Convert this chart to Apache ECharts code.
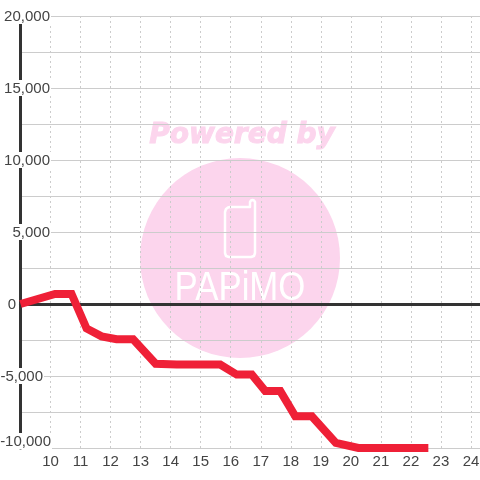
<!DOCTYPE html>
<html><head><meta charset="utf-8">
<style>html,body{margin:0;padding:0;background:#fff}#c{width:480px;height:480px}</style>
<script src="https://cdn.jsdelivr.net/npm/echarts@6/dist/echarts.min.js"></script>
</head><body><div id="c"></div>
<script>
const games = [9, 10.15, 10.7, 11.2, 11.7, 12.2, 12.75, 13.5, 14.2, 15.65, 16.2, 16.7, 17.15, 17.65, 18.15, 18.7, 19.5, 20.25, 22.58];
const values = [0, 700, 700, -1700, -2250, -2450, -2450, -4150, -4200, -4200, -4900, -4900, -6050, -6050, -7800, -7800, -9650, -10000, -10000];
const xTicks = [10, 11, 12, 13, 14, 15, 16, 17, 18, 19, 20, 21, 22, 23, 24];
const wmTitle = 'Powered by';
const wmBrand = 'PAPiMO';
const PINK = '#fcd5ed';
const INK = '#444444';
const DARK = '#333333';
const GRID = '#cccccc';

const chart = echarts.init(document.getElementById('c'), null, {renderer: 'canvas'});
function yFmt(v) {
  if (v % 5000 !== 0) return '';
  const s = v.toLocaleString('en-US');
  if (v === -10000) return '{t|' + s + '}\n{blank|}';
  if (v === -5000) return '{t|' + s + '}{gapA|}';
  if (v === 0) return '{t|' + s + '}{gapB|}';
  return '{t|' + s + '}{gapC|}';
}
chart.setOption({
  animation: false,
  backgroundColor: '#ffffff',
  grid: {left: 20.5, right: 0, top: 16, bottom: 32, containLabel: false, outerBoundsMode: 'none'},
  graphic: [
    {type: 'circle', z: -10, silent: true, shape: {cx: 240, cy: 258, r: 100}, style: {fill: PINK}},
    {type: 'text', z: -10, silent: true, x: 242, y: 136, style: {text: wmTitle, fill: PINK, stroke: PINK, lineWidth: 1, font: 'italic bold 28px "DejaVu Sans"', textAlign: 'center', textVerticalAlign: 'middle'}},
    {type: 'polygon', z: -9, silent: true, shape: {points: [[230,207],[250,207],[250,202],[251,200.5],[252.5,200],[254,200.5],[255,202],[255,253],[254,256],[251,257],[229,257],[226,256],[225,253],[225,212],[226,209],[228,207.5]]}, style: {fill: 'none', stroke: '#fff', lineWidth: 2.5, lineJoin: 'round'}},
    {type: 'text', z: -9, silent: true, x: 240, y: 289, scaleX: 0.87, style: {text: wmBrand, fill: '#ffffff', font: '40px "Liberation Sans"', textAlign: 'center', textVerticalAlign: 'middle'}}
  ],
  xAxis: [
    {type: 'value', min: 9, max: 24.3, interval: 1, position: 'bottom',
     axisLine: {show: false, onZero: false}, axisTick: {show: false},
     axisLabel: {margin: 6, color: INK, fontFamily: 'Liberation Sans', fontSize: 15, customValues: xTicks},
     splitLine: {show: true, showMinLine: false, showMaxLine: false, lineStyle: {color: GRID, type: [2, 3], width: 1}}},
    {type: 'value', min: 9, max: 24.3, interval: 1, position: 'bottom',
     axisLine: {show: true, onZero: true, lineStyle: {color: DARK, width: 3}}, axisTick: {show: false}, axisLabel: {show: false}, splitLine: {show: false}}
  ],
  yAxis: {type: 'value', min: -10000, max: 20000, interval: 2500, position: 'left',
    axisLine: {show: true, onZero: false, lineStyle: {color: DARK, width: 3}}, axisTick: {show: false},
    splitLine: {show: true, lineStyle: {color: GRID, width: 1}},
    axisLabel: {inside: true, margin: 31.5, align: 'right', color: INK, fontFamily: 'Liberation Sans', fontSize: 15, formatter: yFmt,
      rich: {
        t: {backgroundColor: '#fff', color: INK, fontFamily: 'Liberation Sans', fontSize: 15, height: 14, lineHeight: 14, padding: [2, 1, 0, 1]},
        blank: {height: 14, lineHeight: 14, fontSize: 1},
        gapA: {width: 8, height: 14, fontSize: 1},
        gapB: {width: 35, height: 14, fontSize: 1},
        gapC: {width: 1, height: 14, fontSize: 1}
      }}},
  series: [{type: 'line', xAxisIndex: 0, yAxisIndex: 0, data: games.map((g, i) => [g, values[i]]), showSymbol: false, symbol: 'none', clip: false, z: 5,
    lineStyle: {color: '#ef2037', width: 8, join: 'miter', cap: 'butt'}}]
});
</script></body></html>
